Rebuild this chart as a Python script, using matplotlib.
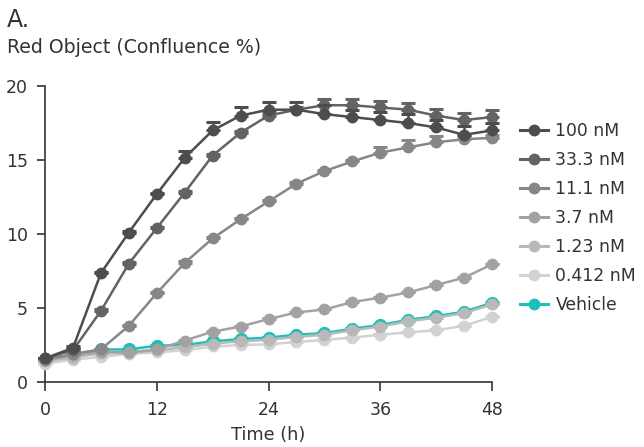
import matplotlib
matplotlib.use("Agg")
import matplotlib.pyplot as plt
from matplotlib.lines import Line2D
import numpy as np

time_h = [0, 3, 6, 9, 12, 15, 18, 21, 24, 27, 30, 33, 36, 39, 42, 45, 48]

labels = ["100 nM", "33.3 nM", "11.1 nM", "3.7 nM", "1.23 nM", "0.412 nM", "Vehicle"]

c100 = [1.6, 2.3, 7.35, 10.1, 12.7, 15.15, 17.0, 18.0, 18.4, 18.4, 18.1, 17.9, 17.7, 17.5, 17.2, 16.7, 17.0]
c33 = [1.6, 2.15, 4.8, 8.0, 10.4, 12.8, 15.3, 16.85, 18.0, 18.4, 18.7, 18.7, 18.55, 18.4, 18.0, 17.7, 17.9]
c11 = [1.5, 1.9, 2.2, 3.8, 6.0, 8.05, 9.7, 11.0, 12.2, 13.4, 14.25, 14.9, 15.5, 15.85, 16.2, 16.4, 16.5]
c3_7 = [1.5, 1.8, 2.05, 2.0, 2.2, 2.8, 3.4, 3.75, 4.25, 4.7, 4.9, 5.4, 5.7, 6.05, 6.55, 7.05, 7.95]
c1_23 = [1.4, 1.65, 1.95, 1.95, 2.15, 2.35, 2.6, 2.75, 2.85, 3.05, 3.2, 3.5, 3.75, 4.1, 4.35, 4.65, 5.25]
c0_412 = [1.25, 1.5, 1.7, 1.9, 2.0, 2.15, 2.4, 2.5, 2.55, 2.7, 2.85, 3.0, 3.2, 3.35, 3.5, 3.8, 4.4]
vehicle = [1.55, 1.85, 2.2, 2.2, 2.45, 2.5, 2.75, 2.9, 3.0, 3.2, 3.3, 3.6, 3.85, 4.2, 4.45, 4.75, 5.35]

e100 = [0.05, 0.1, 0.1, 0.1, 0.1, 0.45, 0.6, 0.55, 0.55, 0.55, 0.6, 0.5, 0.55, 0.6, 0.5, 0.6, 0.5]
e33 = [0.05, 0.05, 0.1, 0.1, 0.1, 0.1, 0.1, 0.1, 0.2, 0.2, 0.4, 0.4, 0.45, 0.45, 0.45, 0.45, 0.5]
e11 = [0.05, 0.05, 0.05, 0.05, 0.1, 0.1, 0.1, 0.1, 0.1, 0.1, 0.1, 0.1, 0.4, 0.5, 0.45, 0.2, 0.2]
e3_7 = [0.05] * 17
e1_23 = [0.05] * 17
e0_412 = [0.05] * 17
evehicle = [0.05] * 17

colors = ["#4d4d4d", "#636363", "#878787", "#a2a2a2", "#b9b9b9", "#d2d2d2", "#1dbfb8"]

plt.rcParams['font.family'] = ['DejaVu Sans']
text_c = "#333333"

fig = plt.figure(figsize=(6.44, 4.47), dpi=100)
ax = fig.add_axes([0.0699, 0.1454, 0.6941, 0.6622])

series = [c100, c33, c11, c3_7, c1_23, c0_412, vehicle]
errs = [e100, e33, e11, e3_7, e1_23, e0_412, evehicle]
zorders = [9, 8, 7, 6, 5, 3, 4]
msizes = [7.5, 7.5, 7.5, 7.5, 7.5, 7.5, 8.5]

for vals, err, col, lab, z, ms in zip(series, errs, colors, labels, zorders, msizes):
    v = np.array(vals)
    e = np.array(err)
    eb = ax.errorbar(time_h, v, yerr=[np.zeros_like(e), e], color=col, lw=1.8,
                     marker='o', ms=ms, mec=col, mfc=col, capsize=5, capthick=2.2,
                     elinewidth=1.8, zorder=z, clip_on=False, label=lab)
    for art in eb.lines[1]:
        art.set_clip_on(False)
    for art in eb.lines[2]:
        art.set_clip_on(False)

ax.set_xlim(0, 48)
ax.set_ylim(0, 20)
ax.set_xticks([0, 12, 24, 36, 48])
ax.set_yticks([0, 5, 10, 15, 20])
for s in ['top', 'right']:
    ax.spines[s].set_visible(False)
for s in ['left', 'bottom']:
    ax.spines[s].set_color(text_c)
    ax.spines[s].set_linewidth(1.2)
ax.spines['bottom'].set_bounds(0, 48)
ax.tick_params(axis='both', colors=text_c, labelcolor=text_c, labelsize=12.5,
               width=1.2, direction='out')
ax.tick_params(axis='x', length=6.5, pad=7)
ax.tick_params(axis='y', length=5.5, pad=7)
ax.set_xlabel("Time (h)", fontsize=12.8, color=text_c, labelpad=5)

fig.text(0.010, 0.955, "A.", fontsize=17, color=text_c, ha='left', va='center')
fig.text(0.011, 0.893, "Red Object (Confluence %)", fontsize=13.6, color=text_c,
         ha='left', va='center')

leg_handles = [Line2D([0], [0], color=c, lw=2.2, marker='o', ms=7.5, mec=c, mfc=c)
               for c in colors]
leg = fig.legend(leg_handles, labels, loc='upper left', bbox_to_anchor=(0.797, 0.742),
                 frameon=False, fontsize=12.4, handlelength=1.6, handletextpad=0.45,
                 labelspacing=0.64, borderaxespad=0)
for t in leg.get_texts():
    t.set_color(text_c)

fig.savefig("out.png", dpi=100)
